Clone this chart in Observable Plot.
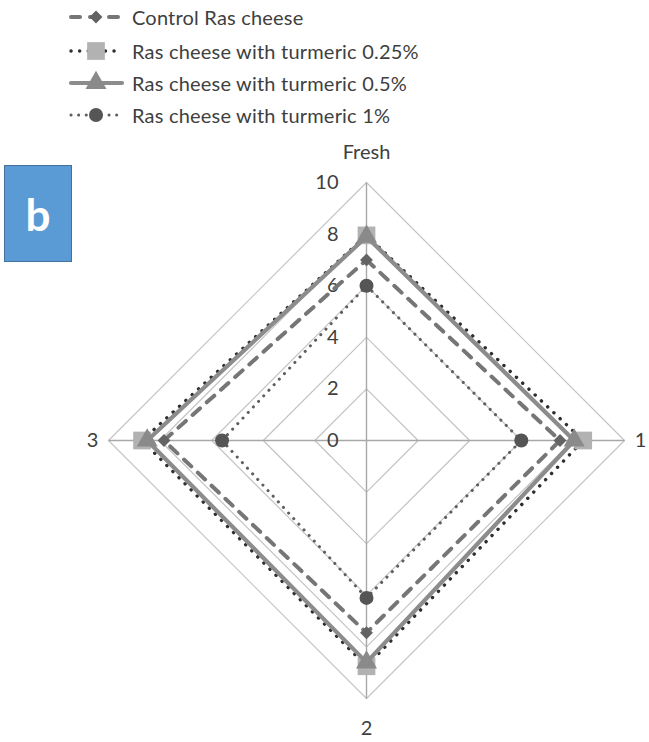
<!DOCTYPE html>
<html>
<head>
<meta charset="utf-8">
<script src="https://cdn.jsdelivr.net/npm/d3@7"></script>
<script src="https://cdn.jsdelivr.net/npm/@observablehq/plot@0.6"></script>
<style>
  body { margin: 0; background: #fff; font-family: Lato, "Open Sans", sans-serif; }
  #wrap { position: relative; width: 649px; height: 742px; overflow: hidden; }
  #legend { position: relative; width: 649px; height: 135px; }
  .row { position: absolute; left: 66px; height: 26px; display: flex; align-items: center; }
  .row span { font-size: 20px; color: #404040; margin-left: 6px; white-space: nowrap; letter-spacing: 0.2px; }
  #badge { position: absolute; left: 4px; top: 165px; width: 66px; height: 95px; background: #5B9BD5;
           border: 1px solid #41719C; color: #fff; font-weight: bold; font-size: 44px;
           display: flex; align-items: center; justify-content: center; font-family: Lato, sans-serif; }
</style>
</head>
<body>
<div id="wrap">
  <div id="legend"></div>
  <div id="chart"></div>
  <div id="badge">b</div>
</div>
<script>
// ---- data ----
const categories = ["Fresh", "1", "2", "3"];
const seriesNames = [
  "Control Ras cheese",
  "Ras cheese with turmeric 0.25%",
  "Ras cheese with turmeric 0.5%",
  "Ras cheese with turmeric 1%"
];
const controlValues = [7.0, 7.5, 7.45, 7.85];
const turmeric025Values = [7.95, 8.4, 8.75, 8.7];
const turmeric05Values = [7.9, 8.05, 8.6, 8.5];
const turmeric1Values = [6.0, 6.0, 6.1, 5.6];
const tickValues = [0, 2, 4, 6, 8, 10];
const ringValues = [2, 4, 6, 8, 10];
const rMax = 10;

// ---- styles ----
const styles = [
  {stroke: "#767676", width: 4, dash: "10,9", cap: "round", symbol: "diamond2", fill: "#636363", r: 5.8},
  {stroke: "#2e2e2e", width: 3.4, dash: "0.1,8.5", cap: "round", symbol: "square", fill: "#b2b2b2", r: 10},
  {stroke: "#8c8c8c", width: 4.2, dash: null, cap: "round", symbol: "triangle", fill: "#8a8a8a", r: 7.8},
  {stroke: "#5e5e5e", width: 3, dash: "0.1,7.5", cap: "round", symbol: "circle", fill: "#555555", r: 7}
];

const allValues = [controlValues, turmeric025Values, turmeric05Values, turmeric1Values];
const angle = i => i * Math.PI / 2;
const px = (r, i) => r * Math.sin(angle(i));
const py = (r, i) => r * Math.cos(angle(i));

const series = seriesNames.map((name, s) =>
  categories.map((c, i) => ({series: name, category: c, value: allValues[s][i]}))
);

// ---- legend (HTML) ----
const legend = document.getElementById("legend");
const rowCenters = [17, 51, 83, 115];
seriesNames.forEach((name, s) => {
  const st = styles[s];
  const row = document.createElement("div");
  row.className = "row";
  row.style.top = (rowCenters[s] - 13) + "px";
  const svg = d3.create("svg").attr("width", 60).attr("height", 26);
  svg.append("line").attr("x1", 5).attr("x2", 56).attr("y1", 13).attr("y2", 13)
    .attr("stroke", st.stroke).attr("stroke-width", st.width)
    .attr("stroke-dasharray", s === 0 ? "9,10" : st.dash).attr("stroke-linecap", st.cap);
  const sym = {diamond2: d3.symbolDiamond2, square: d3.symbolSquare, triangle: d3.symbolTriangle, circle: d3.symbolCircle}[st.symbol];
  svg.append("path").attr("d", d3.symbol(sym, Math.PI * st.r * st.r)())
    .attr("transform", "translate(30,13)").attr("fill", st.fill);
  row.appendChild(svg.node());
  const span = document.createElement("span");
  span.textContent = name;
  row.appendChild(span);
  legend.appendChild(row);
});

// ---- chart ----
const cx = 366, cy = 305, R = 258;
const closed = arr => arr.concat([arr[0]]);

const marks = [];
// rings
ringValues.forEach(r => {
  marks.push(Plot.line(closed(categories.map((c, i) => ({x: px(r, i), y: py(r, i)}))),
    {x: "x", y: "y", stroke: "#c4c4c4", strokeWidth: 1.2}));
});
// spokes
marks.push(Plot.link(categories, {
  x1: () => 0, y1: () => 0,
  x2: (d, i) => px(rMax, i), y2: (d, i) => py(rMax, i),
  stroke: "#a8a8a8", strokeWidth: 1.4
}));
// tick labels
marks.push(Plot.text(tickValues, {
  x: () => 0, y: d => d, text: d => String(d), textAnchor: "end", dx: -28,
  fontSize: 20, fill: "#404040", fontFamily: "Lato, sans-serif"
}));
// category labels
const labelOffsets = [[0, -30], [16, 0], [0, 30], [-16, 0]];
categories.forEach((c, i) => {
  marks.push(Plot.text([c], {
    x: () => px(rMax, i), y: () => py(rMax, i), text: d => d,
    dx: labelOffsets[i][0], dy: labelOffsets[i][1],
    fontSize: 20, fill: "#404040", fontFamily: "Lato, sans-serif"
  }));
});
// series lines and markers
series.forEach((rows, s) => {
  const st = styles[s];
  marks.push(Plot.line(closed(rows), {
    x: (d) => px(d.value, categories.indexOf(d.category)),
    y: (d) => py(d.value, categories.indexOf(d.category)),
    stroke: st.stroke, strokeWidth: st.width,
    strokeDasharray: st.dash, strokeLinecap: st.cap, strokeLinejoin: "miter"
  }));
  marks.push(Plot.dot(rows, {
    x: (d) => px(d.value, categories.indexOf(d.category)),
    y: (d) => py(d.value, categories.indexOf(d.category)),
    symbol: () => st.symbol, fill: st.fill, stroke: "none", r: st.r
  }));
});

const plot = Plot.plot({
  width: 649, height: 607, margin: 0,
  x: {type: "linear", domain: [-rMax, rMax], range: [cx - R, cx + R], axis: null},
  y: {type: "linear", domain: [-rMax, rMax], range: [cy + R, cy - R], axis: null},
  symbol: {type: "identity"},
  style: {background: "#fff", overflow: "visible"},
  marks
});
document.getElementById("chart").appendChild(plot);
</script>
</body>
</html>
